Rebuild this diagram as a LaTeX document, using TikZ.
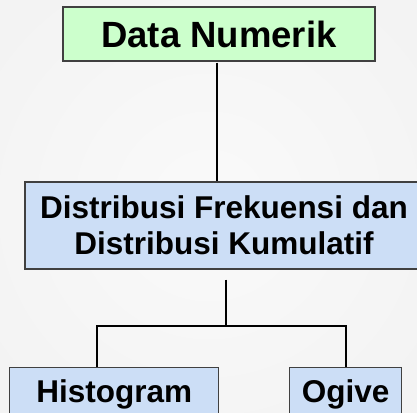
\documentclass[tikz,border=0pt]{standalone}
\usepackage{fontspec}
\setmainfont{Liberation Sans}
\begin{document}
\begin{tikzpicture}[x=1pt,y=-1pt,
  box/.style={draw=black!75,line width=1.3pt,inner sep=0pt,font=\bfseries},
  greenbox/.style={box,fill={rgb,255:red,204;green,255;blue,204}},
  bluebox/.style={box,fill={rgb,255:red,204;green,222;blue,246}},
  conn/.style={line width=2pt,black}]
\clip (0,0) rectangle (417,412);
\shade[inner color={rgb,255:red,250;green,250;blue,250},outer color={rgb,255:red,243;green,243;blue,243}] (-60,-60) rectangle (477,472);
\node[greenbox,minimum width=312pt,minimum height=54pt,font=\fontsize{36.5}{40}\selectfont\bfseries] (top) at (219,34) {Data Numerik};
\node[bluebox,minimum width=398pt,minimum height=87pt,align=center,font=\fontsize{31.5}{36}\selectfont\bfseries] (mid) at (224,225.5) {Distribusi Frekuensi dan\\Distribusi Kumulatif};
\node[bluebox,minimum width=209pt,minimum height=54pt,anchor=north west,font=\fontsize{31.5}{36}\selectfont\bfseries] (hist) at (9,367) {Histogram};
\node[bluebox,minimum width=112pt,minimum height=54pt,anchor=north west,font=\fontsize{31.5}{36}\selectfont\bfseries] (ogive) at (289,367) {Ogive};
\coordinate (j) at (225.7,326);
\draw[conn] ([xshift=-2pt,yshift=-1pt]top.south) -- ([xshift=-2pt]top.south |- mid.north);
\draw[conn] ([yshift=-10pt]mid.south -| j) -- (j);
\draw[conn] ([xshift=-16.8pt]hist.north) |- (j) -| (ogive.north);
\end{tikzpicture}
\end{document}
